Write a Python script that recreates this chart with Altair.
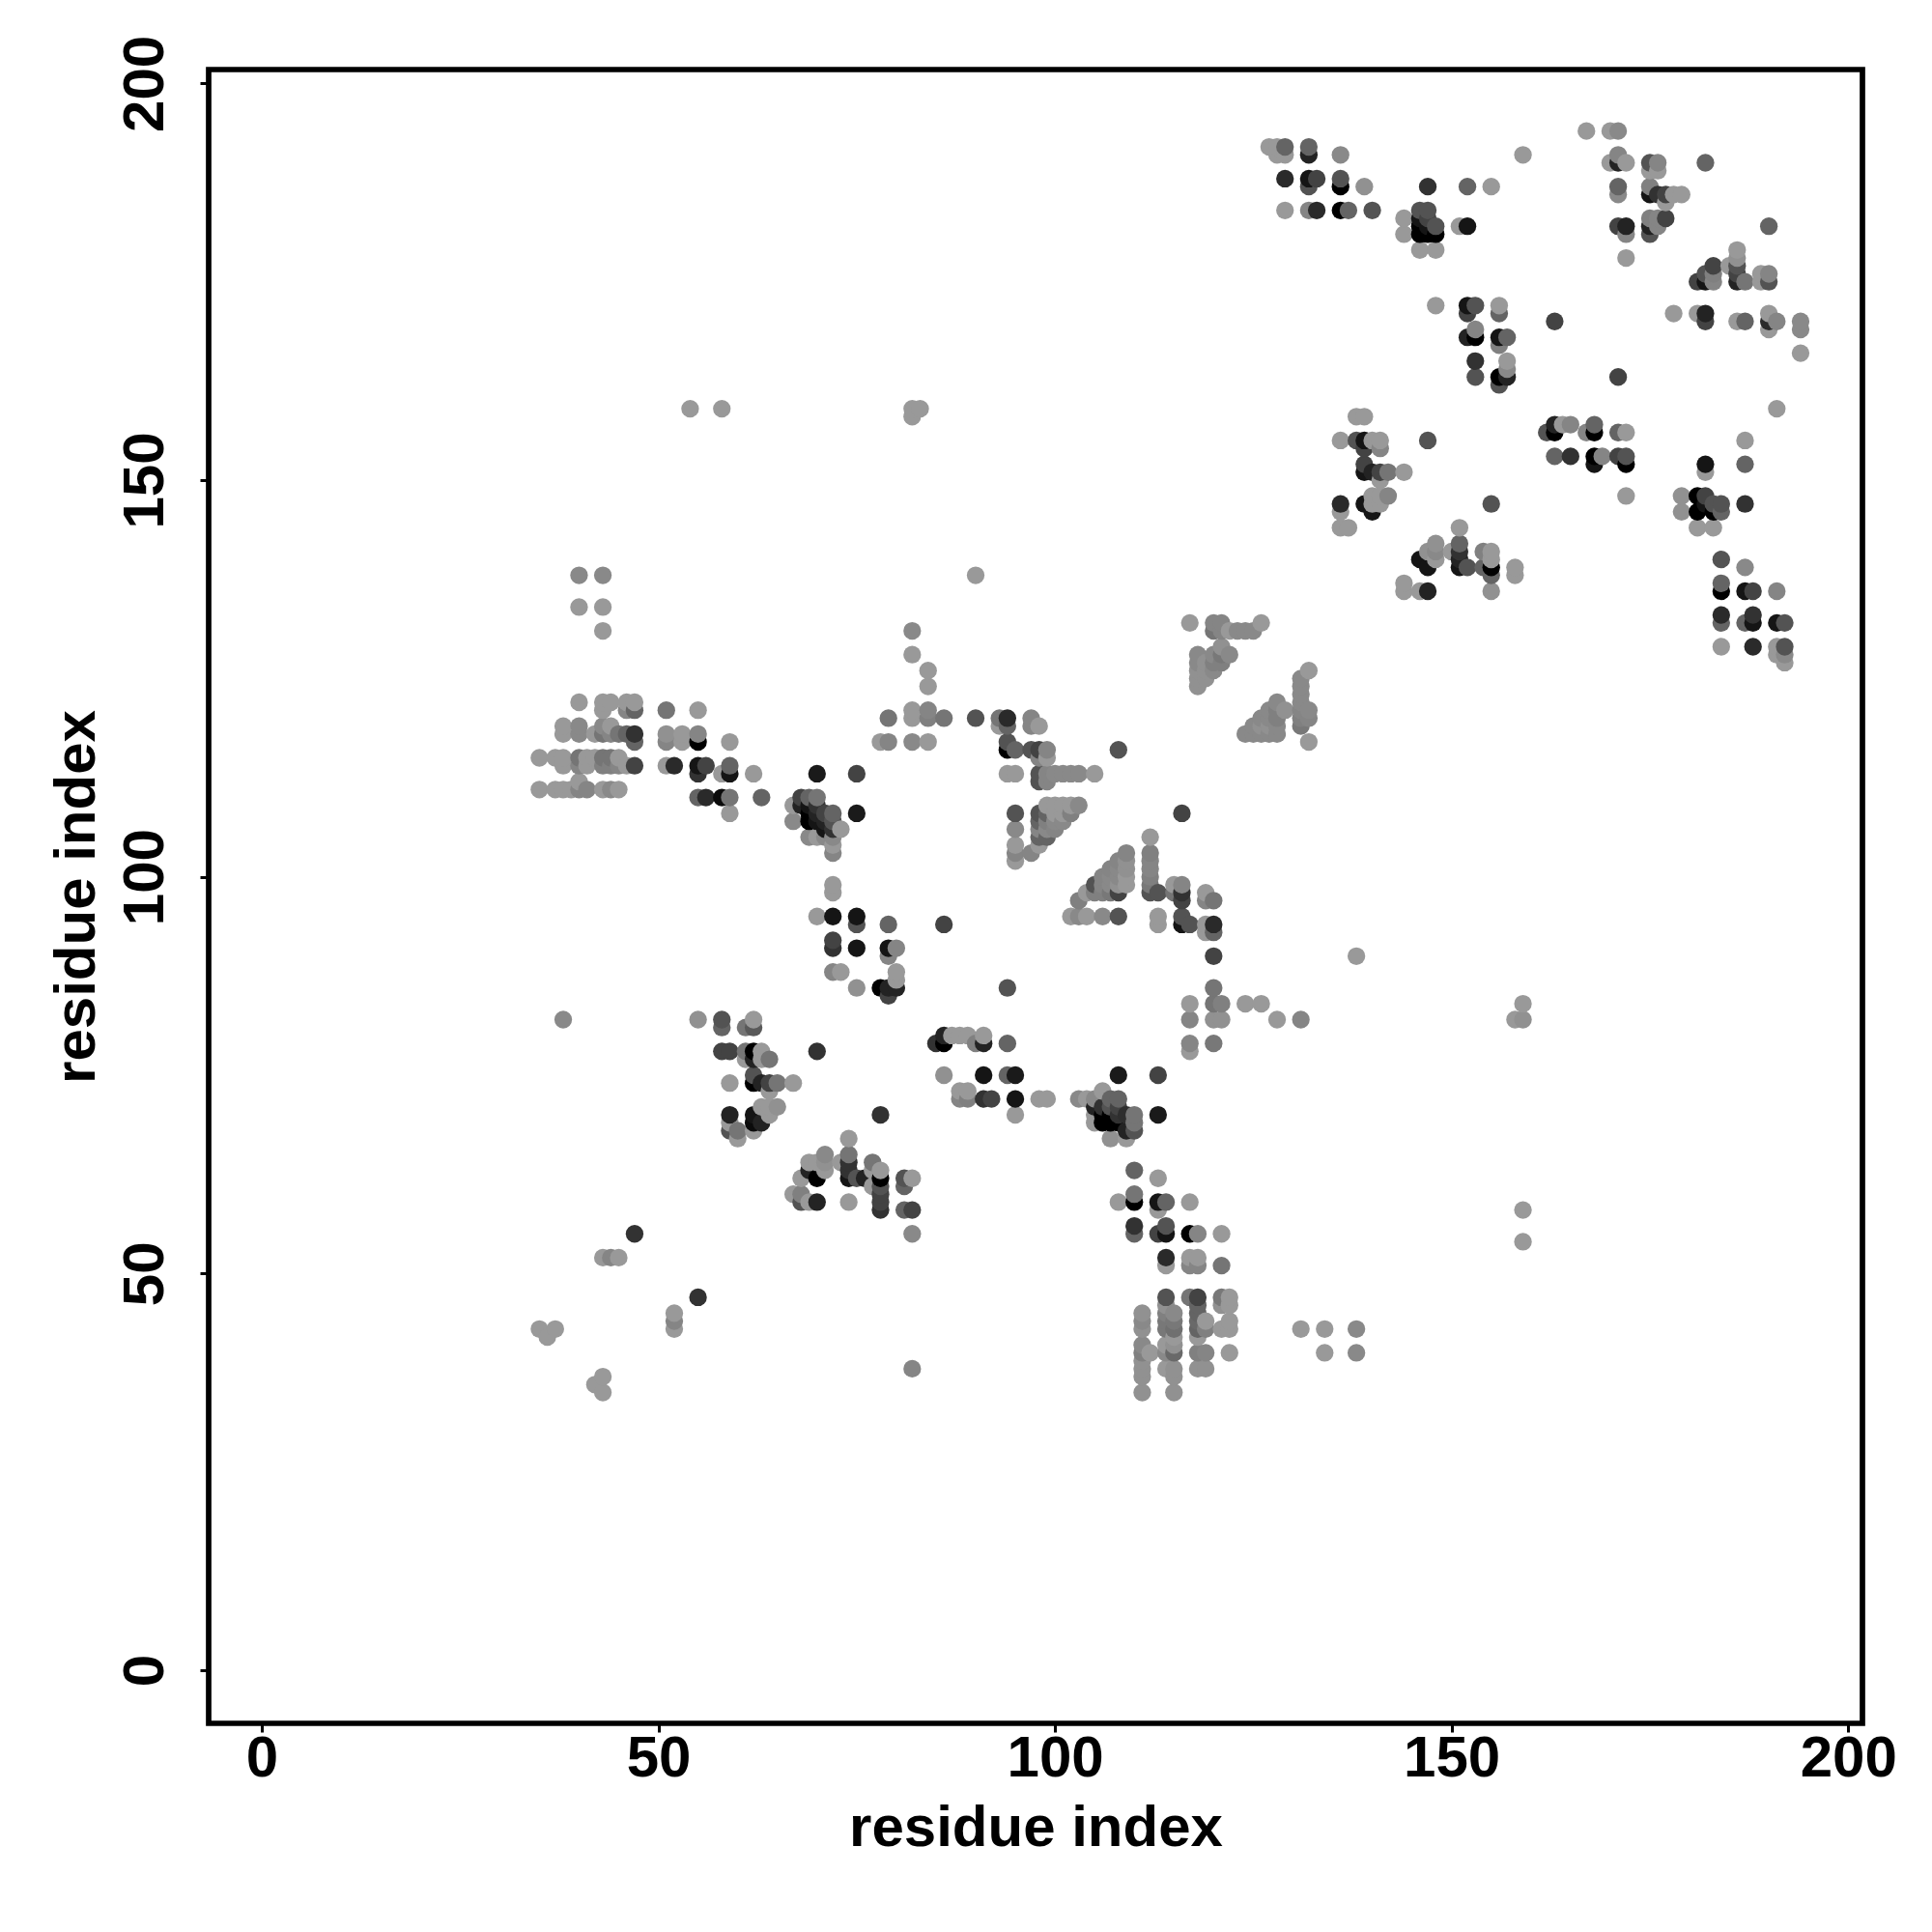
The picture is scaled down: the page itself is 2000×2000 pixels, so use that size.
import altair as alt
import pandas as pd

FONT = "Liberation Sans"
axis_ticks = [0, 50, 100, 150, 200]

# (residue i, residue j, strength), by region
far_lower_left = [
 (38,82,.1),(47,55,.67),(43,52,0),(44,52,.12),(45,52,0),(55,47,.67),(52,45,0),(52,44,.12),(52,43,0),
 (35,43,0),(37,43,0),(36,42,0),(43,37,0),(42,36,0),(43,35,0),(82,38,.12),
]
cluster_60_75 = [
 (55,82,.05),(58,82,.44),(58,81,.33),(62,82,0),(61,81,.22),(62,81,.4),
 (58,78,.55),(59,78,.55),(61,78,.22),(62,78,1),(63,78,0),(61,77,0),(62,77,.78),(63,77,0),(64,77,.22),
 (70,78,.67),(59,74,0),(62,75,.44),(62,74,1),(63,74,.78),(64,74,.55),(65,74,.22),(67,74,0),(64,73,0),
 (59,70,.78),(62,70,.89),(59,69,0),(62,69,.95),(63,69,.78),(63,71,0),(64,71,0),(65,71,.05),(64,70,0),
 (59,68,.44),(60,68,.22),(62,68,0),(60,67,0),(78,70,.67),
]
cluster_70_62 = [
 (74,67,0),(74,65,.22),(71,65,.1),(69,64,0),(70,64,0),(71,64,.05),(73,64,0),(69,63,.78),
 (71,63,0),(70,62,1),(68,62,0),(74,64,.67),(74,63,.67),(74,62,.89),(75,62,.44),(77,64,.22),(77,63,0),
 (76,62,.78),(77,61,0),(78,63,0),(78,62,1),(78,61,.44),(81,62,.44),(82,62,0),(81,61,.33),
 (67,60,0),(68,60,.15),(68,59,.44),(69,59,0),(70,59,.78),(74,59,0),(78,59,.55),(78,60,.55),(78,58,.67),
 (81,58,.33),(82,58,.55),(82,55,.1),
]
cluster_75_90 = [
 (72,88,.12),(73,88,0),(75,86,.05),(79,85,.55),(78,86,1),(79,86,.78),(80,86,.78),(80,87,0),(80,88,0),
 (85,79,.67),(86,80,.78),(86,79,1),(87,80,0),(88,80,0),(86,75,.05),(88,73,0),(88,72,.12),
 (94,86,.44),(89,80,0),(90,79,.15),(91,80,0),(91,79,.78),(94,79,.33),(91,75,.89),(94,75,.33),(95,75,.85),
 (89,72,.15),(89,73,0),(91,72,.67),(92,72,.55),(95,72,.89),(98,72,0),(99,72,0),(95,70,0),
 (103,72,.1),(104,72,0),
]
cluster_108_70 = [
 (108,75,.85),(113,75,.55),(113,70,.85),(106,73,0),(105,72,.1),(107,72,.33),(108,72,.33),
 (105,71,.78),(106,71,.67),(107,71,.44),(108,71,.55),(110,70,.22),(105,70,0),(106,70,1),(107,70,1),
 (108,70,.67),(109,70,.7),(106,69,1),(107,69,1),(108,69,1),(105,69,0),(110,69,.22),(109,68,.78),
 (110,68,.44),(107,67,.05),(109,67,0),
]
cluster_115_55 = [
 (110,63,.33),(113,62,0),(110,60,.22),(108,59,0),(110,59,1),(113,59,.89),(114,59,.33),(117,59,0),(113,58,0),
 (110,56,.67),(114,56,.44),(110,55,.33),(113,55,.55),(114,55,.89),(117,55,1),(118,55,.12),(121,55,0),
 (114,52,.73),(117,52,0),(118,52,0),(114,51,0),(117,51,.12),(118,51,.12),(121,51,.22),
 (114,47,.44),(117,47,.22),(118,47,.55),(121,47,.2),(122,47,0),
]
cluster_115_40 = [
 (111,45,.05),(111,44,.1),(111,43,.05),(111,41,.1),(111,40,.15),(111,39,.05),(111,38,.05),(111,37,.05),(111,35,.05),
 (112,40,0),(114,46,.05),(114,45,.15),(114,44,.2),(114,43,.2),(114,41,0),(114,40,.1),(114,38,0),
 (115,45,.1),(115,44,.2),(115,43,.25),(115,42,0),(115,41,.05),(115,40,.3),(115,38,.05),(115,37,.05),(115,35,.05),
 (118,46,.33),(118,45,.33),(118,44,.3),(118,43,.33),(118,42,0),(118,40,.15),(118,38,.05),
 (119,44,0),(119,43,.15),(119,40,.12),(119,38,.05),(121,46,.05),(121,43,0),(122,46,0),(122,44,0),(122,43,0),(122,40,0),
 (131,43,0),(134,43,0),(138,43,.1),(134,40,0),(138,40,.1),
]
cluster_120_84 = [
 (120,86,.22),(117,84,0),(120,84,.22),(121,84,.15),(124,84,0),(126,84,0),(128,82,0),(131,82,.12),
 (117,82,.12),(120,82,.05),(121,82,.05),(117,79,.12),(117,78,0),(120,79,.2),
]
cluster_40_115 = [
 (40,138,.1),(43,138,.1),(40,134,0),(43,134,0),(43,131,0),
 (40,122,0),(43,122,0),(44,122,0),(46,122,0),(47,122,0),(43,121,0),(46,121,.12),(47,121,.33),
 (38,119,0),(40,119,.1),(43,119,.1),(44,119,0),
 (38,118,0),(40,118,.1),(42,118,0),(43,118,.22),(44,118,.12),(45,118,.22),(46,118,.33),(47,118,.67),(47,117,.33),
 (35,115,0),(37,115,0),(38,115,0),(40,115,.22),(41,115,0),(42,115,0),(43,115,.22),(44,115,.22),(45,115,0),
 (38,114,0),(40,114,.12),(41,114,0),(43,114,.15),(44,114,.15),(45,114,.12),(46,114,0),(47,114,.55),
 (40,112,0),(35,111,0),(37,111,0),(38,111,0),(39,111,0),(40,111,.12),(41,111,.12),(43,111,0),(44,111,.1),(45,111,0),
]
cluster_55_113 = [
 (51,121,.22),(55,121,0),(51,118,.05),(53,118,0),(55,118,.12),(51,117,.12),(53,117,0),(55,117,1),(59,117,0),
 (51,114,0),(52,114,.73),(55,114,.89),(56,114,.55),(59,114,.33),(55,113,.67),(58,113,0),(59,113,.89),(62,113,0),
 (55,110,.33),(56,110,.73),(58,110,.95),(59,110,.22),(63,110,.33),(59,108,0),
]
cluster_70_108 = [
 (70,113,.85),(75,113,.55),(75,108,.85),(68,110,.55),(69,110,.33),(70,110,.22),
 (67,109,0),(68,109,.78),(69,109,.89),(70,109,.67),(69,108,1),(70,108,.78),(71,108,.55),(72,108,.33),
 (67,107,.1),(69,107,1),(70,107,.89),(71,107,.78),(72,107,.44),(71,106,.89),(72,106,.67),(73,106,0),
 (69,105,.1),(70,105,0),(71,105,.1),(72,105,.1),(72,104,0),(72,103,.12),(72,99,0),(72,98,0),
]
cluster_75_92 = [
 (70,95,0),(72,95,.89),(75,95,.89),(75,94,.44),(79,94,.33),(86,94,.55),(72,92,.55),(72,91,.67),(75,91,.89),
 (79,91,.89),(80,91,.12),(79,90,.12),
]
cluster_82_122 = [
 (82,131,.1),(82,128,0),(84,126,0),(84,124,0),(82,121,0),(84,121,.12),(79,120,.22),(82,120,0),(84,120,.15),(86,120,.22),
 (78,117,0),(79,117,.12),(82,117,.1),(84,117,0),(90,138,0),(90,120,.44),(93,120,.22),(94,120,.73),(97,120,.12),
 (98,119,0),(93,119,0),(94,119,.33),(97,119,.12),
]
cluster_98_112 = [
 (94,117,.44),(94,116,1),(95,116,.33),(97,116,.44),(98,116,.55),(99,116,.12),(98,115,.12),(99,115,0),(108,116,.44),
 (94,113,0),(95,113,0),(98,113,.44),(99,113,.12),(100,113,.1),(101,113,.1),(102,113,.1),(103,113,.1),(105,113,0),
 (98,112,.44),(99,112,.12),(95,108,.44),(98,108,.44),(99,109,0),(100,109,0),(101,109,0),(102,109,0),(103,109,.1),
 (99,108,.33),(100,108,0),(101,108,0),(102,108,.15),(98,107,.33),(99,107,.15),(100,107,.1),(101,107,.1),
 (95,106,.1),(98,106,.12),(99,106,.1),(100,106,.12),(98,105,.33),(99,105,.33),(95,104,0),(98,104,0),(95,103,.12),
 (97,103,.12),(95,102,0),(116,108,.55),
]
cluster_108_98 = [
 (112,105,0),(112,103,.15),(112,102,.12),(112,101,.12),(112,100,.15),(112,99,.2),(112,98,.44),(113,98,.44),
 (115,99,0),(116,99,.12),(115,98,.22),(116,98,.67),(116,97,.55),(119,98,0),(120,97,.22),(119,97,.12),
 (116,95,.44),(117,94,.44),(116,94,.89),(120,94,.73),(119,94,0),(119,93,0),(120,93,.33),(120,90,.55),
 (113,95,0),(113,94,0),(138,90,0),
 (102,95,0),(103,95,.1),(104,95,0),(106,95,.1),(108,95,.44),(103,97,.15),
 (104,98,0),(105,98,.15),(106,98,.15),(107,98,.2),(108,98,.55),
 (105,99,.44),(106,99,.12),(107,99,.1),(108,99,.05),(109,99,0),
 (106,100,.12),(107,100,.1),(108,100,.1),(109,100,0),(107,101,.12),(108,101,.1),(109,101,.05),
 (108,102,.12),(109,102,.05),(109,103,.12),
]
cluster_120_128 = [
 (117,132,0),(120,132,.12),(121,132,.12),(126,132,0),(120,131,.22),(121,131,.12),(122,131,0),(123,131,.1),(124,131,.1),(125,131,.1),
 (121,129,.05),(118,128,.1),(118,127,.1),(118,126,.05),(118,125,.05),(118,124,.05),(119,127,.05),(119,126,.05),(119,125,.05),
 (120,128,.1),(120,127,.15),(120,126,.1),(121,128,.2),(121,127,.15),(122,128,.1),
 (124,118,.1),(125,118,.1),(126,118,.1),(127,118,.1),(128,118,.1),
 (125,119,.1),(126,119,.05),(127,119,.05),(128,119,.1),(126,120,.1),(127,120,.1),(128,120,.15),
 (127,121,.1),(128,121,.15),(129,121,.05),(128,122,.1),
 (131,125,.1),(131,124,.1),(131,123,.1),(131,122,.1),(131,121,.12),(131,120,.15),(131,119,.2),
 (132,126,0),(132,121,.1),(132,120,.12),(132,117,0),
]
top_left_blocks = [
 (127,192,0),(128,192,0),(129,192,.33),(128,191,0),(129,191,0),(132,192,.33),(132,191,.78),(136,191,.1),
 (129,188,.73),(132,188,.89),(133,188,.55),(136,188,.44),(132,187,.44),(136,187,1),(139,187,.05),
 (129,184,0),(132,184,.12),(133,184,.73),(136,184,1),(137,184,.33),(140,184,.44),
 (147,187,.67),(152,187,.33),(155,187,0),(159,191,0),
 (144,183,0),(144,181,0),(146,184,.44),(147,184,.44),(146,183,.89),(147,183,.55),(148,182,.44),(146,182,1),
 (147,182,.89),(146,181,1),(147,181,1),(148,181,1),(146,179,0),(148,179,0),(151,182,0),(152,182,.89),
]
top_right_blocks = [
 (167,194,0),(170,194,0),(171,194,.1),(171,191,.12),(170,190,0),(171,190,.78),(172,190,0),
 (175,190,.44),(176,190,.12),(175,189,0),(176,189,0),(182,190,.33),(171,187,.33),(171,186,.1),
 (175,187,.15),(175,186,.89),(176,186,.67),(177,186,.55),(178,186,0),(179,186,0),(177,185,0),
 (175,183,.15),(176,183,.12),(177,183,.55),(175,182,.78),(176,182,.12),(175,181,.44),
 (171,182,.55),(172,182,.78),(172,181,.12),(172,178,0),(190,182,.33),
 (186,179,0),(186,178,.05),(183,177,.55),(185,177,0),(186,177,.44),
 (182,176,.44),(183,176,.15),(186,176,.55),(181,175,.55),(182,175,.89),(183,175,.12),(186,175,.78),(187,175,.22),
 (189,176,0),(190,176,.12),(189,175,0),(190,175,.44),
 (178,171,0),(181,171,0),(182,171,.78),(190,171,0),(182,170,.55),(186,170,0),(187,170,.33),(190,170,.73),(191,170,.12),
 (194,170,.1),(190,169,0),(194,169,.1),(194,166,0),(163,170,.55),
]
cluster_153_168 = [
 (148,172,0),(152,172,.89),(153,172,.44),(156,172,0),(152,171,.55),(156,171,.33),(153,169,.12),
 (152,168,.78),(153,168,1),(156,168,.89),(157,168,.33),(156,167,.15),(153,165,.67),(157,165,0),(157,164,.1),
 (153,163,.44),(156,163,1),(157,163,.78),(156,162,.44),(171,163,.55),
]
cluster_140_150 = [
 (138,158,0),(139,158,0),(136,155,0),(138,155,.44),(139,155,.89),(140,155,0),(141,155,0),(141,154,.12),(139,154,.55),
 (147,155,.44),(139,152,.55),(139,151,.89),(140,151,.78),(141,151,.55),(142,151,.22),(144,151,0),(141,150,0),
 (140,148,0),(141,148,0),(142,148,.12),(136,147,.73),(136,146,0),(136,144,0),(137,144,0),
 (139,147,.89),(140,146,.89),(140,147,0),(141,147,0),(155,147,.44),(172,148,0),
]
cluster_165_155 = [
 (191,159,0),(162,156,.44),(163,157,.78),(163,156,1),(164,157,0),(165,157,.12),(167,156,.12),(168,157,.33),(168,156,1),
 (171,156,.33),(172,156,0),(163,153,.33),(165,153,.67),(168,153,1),(169,153,.12),(171,153,.55),(172,153,.44),
 (168,152,.89),(172,152,1),
]
cluster_182_147 = [
 (187,155,0),(187,152,.33),(182,152,.89),(182,151,0),(179,148,.05),(179,146,.05),(181,148,1),(182,148,.55),(181,146,1),
 (183,147,.44),(184,147,.44),(182,147,.89),(183,146,1),(184,146,.33),(181,144,0),(183,144,0),(187,147,.67),
]
cluster_150_140 = [
 (151,144,0),(151,142,.33),(151,141,.67),(151,140,.78),(151,139,.89),(152,139,.44),(150,141,0),
 (148,142,.05),(147,141,.05),(148,141,.1),(148,140,0),(146,140,.89),(147,139,.89),
 (154,141,.15),(155,141,0),(155,140,0),(155,139,1),(154,139,.33),(155,138,.33),(158,139,0),(158,138,0),(155,136,.05),
 (144,137,0),(144,136,0),(146,136,0),(147,136,.78),
]
cluster_188_133 = [
 (184,140,.44),(187,139,.1),(184,137,.33),(184,136,1),(187,136,.89),(188,136,.55),(191,136,.12),
 (184,133,.73),(184,132,.33),(188,133,.67),(187,132,.33),(188,132,.89),(191,132,.89),(192,132,.44),
 (184,129,0),(188,129,.73),(191,129,0),(192,129,.44),(191,128,0),(192,128,.1),(192,127,0),
]
outliers = [
 (54,159,0),(58,159,0),(82,159,0),(83,159,0),(82,158,0),(159,84,0),(158,82,0),(159,82,.05),(159,58,0),(159,54,0),
]

clusters = [far_lower_left, cluster_60_75, cluster_70_62, cluster_75_90, cluster_108_70, cluster_115_55,
            cluster_115_40, cluster_120_84, cluster_40_115, cluster_55_113, cluster_70_108, cluster_75_92,
            cluster_82_122, cluster_98_112, cluster_108_98, cluster_120_128, top_left_blocks, top_right_blocks,
            cluster_153_168, cluster_140_150, cluster_165_155, cluster_182_147, cluster_150_140, cluster_188_133, outliers]

rows = [p for c in clusters for p in c]
df = pd.DataFrame(rows, columns=["i", "j", "s"]).drop_duplicates(["i", "j"]).sort_values(["i", "j"])

axis_common = dict(
    values=axis_ticks, grid=False, domain=False, tickColor="black", tickWidth=3, tickSize=9,
    labelFont=FONT, labelFontWeight="bold", labelFontSize=60, labelColor="black",
    titleFont=FONT, titleFontWeight="bold", titleFontSize=60, titleColor="black",
    labelOverlap=False, labelFlush=False, format="d",
)

chart = alt.Chart(df).mark_circle(size=335, opacity=1).encode(
    x=alt.X("i:Q", title="residue index", scale=alt.Scale(domain=[-6.7, 201.8], nice=False, zero=False),
            axis=alt.Axis(labelPadding=-2, titlePadding=13, **axis_common)),
    y=alt.Y("j:Q", title="residue index", scale=alt.Scale(domain=[-6.7, 201.75], nice=False, zero=False),
            axis=alt.Axis(labelAngle=270, labelAlign="center", labelBaseline="bottom", labelPadding=26,
                          titlePadding=10, **axis_common)),
    color=alt.Color("s:Q", legend=None, scale=alt.Scale(domain=[0, 1], range=["#999999", "#000000"])),
    order=alt.Order("i:Q"),
).properties(
    width=1712, height=1712, background="white",
    autosize=alt.AutoSizeParams(type="none"),
    padding={"left": 208, "top": 64, "right": 60, "bottom": 180},
).configure_view(stroke="black", strokeWidth=5.7, fill="white")

chart.save("out.html", embed_options={"renderer": "svg", "actions": False})
